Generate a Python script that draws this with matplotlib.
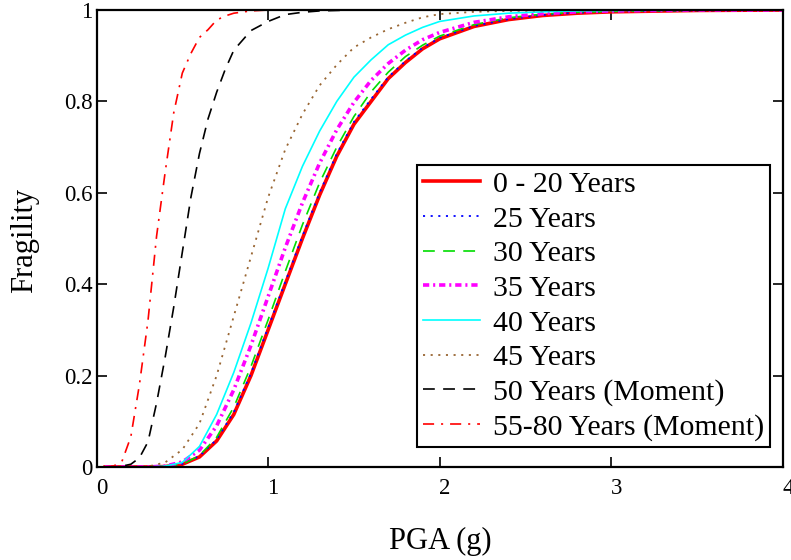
import matplotlib
matplotlib.use("Agg")
import matplotlib.pyplot as plt
from matplotlib.transforms import ScaledTranslation

plt.rcParams['font.family'] = ['Liberation Serif', 'DejaVu Serif']
plt.rcParams['lines.scale_dashes'] = False

# ---- data ----
pga = [0.05, 0.1, 0.2, 0.3, 0.4, 0.5, 0.6, 0.7, 0.8, 0.9, 1.0, 1.1, 1.2, 1.3,
       1.4, 1.5, 1.6, 1.7, 1.8, 1.9, 2.0, 2.2, 2.4, 2.6, 2.8, 3.0, 3.5, 4.0]
frag_0_20 = [0, 0, 0, 0, 0.001, 0.006, 0.022, 0.057, 0.115, 0.20, 0.30, 0.40, 0.50, 0.595,
             0.68, 0.75, 0.80, 0.85, 0.885, 0.915, 0.937, 0.964, 0.979, 0.988, 0.993, 0.996, 0.999, 1.0]
frag_25 = [0, 0, 0, 0, 0.001, 0.007, 0.024, 0.06, 0.12, 0.205, 0.305, 0.405, 0.505, 0.60,
           0.685, 0.755, 0.805, 0.853, 0.888, 0.917, 0.939, 0.965, 0.98, 0.989, 0.994, 0.997, 0.999, 1.0]
frag_30 = [0, 0, 0, 0, 0.001, 0.006, 0.025, 0.065, 0.131, 0.22, 0.322, 0.428, 0.53, 0.622,
           0.70, 0.767, 0.821, 0.864, 0.898, 0.923, 0.943, 0.968, 0.983, 0.991, 0.995, 0.997, 0.9995, 1.0]
frag_35 = [0, 0, 0, 0, 0.002, 0.011, 0.037, 0.09, 0.169, 0.266, 0.373, 0.48, 0.578, 0.665,
           0.738, 0.798, 0.846, 0.883, 0.912, 0.935, 0.951, 0.973, 0.985, 0.992, 0.996, 0.998, 1.0, 1.0]
frag_40 = [0, 0, 0, 0, 0.002, 0.01, 0.045, 0.115, 0.207, 0.315, 0.435, 0.565, 0.658, 0.735,
           0.80, 0.853, 0.891, 0.924, 0.945, 0.962, 0.975, 0.987, 0.993, 0.996, 0.998, 0.999, 1.0, 1.0]
frag_45 = [0, 0, 0, 0.001, 0.01, 0.038, 0.095, 0.20, 0.33, 0.46, 0.59, 0.695, 0.772, 0.835,
           0.88, 0.918, 0.94, 0.958, 0.972, 0.984, 0.991, 0.996, 0.998, 0.999, 1.0, 1.0, 1.0, 1.0]

pga_moment = [0.05, 0.1, 0.15, 0.2, 0.25, 0.3, 0.35, 0.4, 0.45, 0.5, 0.55, 0.6, 0.65,
              0.7, 0.75, 0.8, 0.9, 1.0, 1.1, 1.2, 1.3, 1.5, 2.0, 3.0, 4.0]
frag_50 = [0, 0, 0.002, 0.006, 0.02, 0.055, 0.14, 0.24, 0.35, 0.47, 0.59, 0.686, 0.762,
           0.82, 0.87, 0.912, 0.955, 0.975, 0.99, 0.995, 0.998, 1.0, 1.0, 1.0, 1.0]
frag_55_80 = [0, 0.002, 0.014, 0.066, 0.18, 0.32, 0.505, 0.645, 0.775, 0.862, 0.905, 0.94, 0.957,
              0.978, 0.987, 0.993, 0.998, 1.0, 1.0, 1.0, 1.0, 1.0, 1.0, 1.0, 1.0]

labels = ["0 - 20 Years", "25 Years", "30 Years", "35 Years", "40 Years",
          "45 Years", "50 Years (Moment)", "55-80 Years (Moment)"]
x_ticks = [0, 1, 2, 3, 4]
y_ticks = [0, 0.2, 0.4, 0.6, 0.8, 1.0]
y_ticklabels = ["0", "0.2", "0.4", "0.6", "0.8", "1"]

# ---- figure ----
fig = plt.figure(figsize=(7.91, 5.60), dpi=100)
ax = fig.add_axes([96.5 / 791, 1 - 467 / 560, (783 - 96.5) / 791, (467 - 10) / 560])

ax.plot(pga, frag_0_20, color='#ff0000', lw=2.6, ls='-', label=labels[0])
ax.plot(pga, frag_25, color='#0000ff', lw=1.3, ls=(0, (1.5, 4.0)), label=labels[1])
ax.plot(pga, frag_30, color='#00dd00', lw=1.2, ls=(0, (8.5, 6.0)), label=labels[2])
ax.plot(pga, frag_35, color='#ff00ff', lw=2.6, ls=(0, (4.5, 2.8, 1.5, 2.8)), label=labels[3])
ax.plot(pga, frag_40, color='#00ffff', lw=1.2, ls='-', label=labels[4])
ax.plot(pga, frag_45, color='#996633', lw=1.3, ls=(0, (1.5, 4.0)), label=labels[5])
ax.plot(pga_moment, frag_50, color='#000000', lw=1.2, ls=(0, (8.5, 6.0)), label=labels[6])
ax.plot(pga_moment, frag_55_80, color='#ff0000', lw=1.2, ls=(0, (8.0, 5.0, 1.5, 5.0)), label=labels[7])

ax.set_xlim(0, 4)
ax.set_ylim(0, 1)
ax.set_xticks(x_ticks)
ax.set_yticks(y_ticks)
ax.set_yticklabels(y_ticklabels)
ax.tick_params(direction='in', length=7, width=1.2, top=True, right=True,
               labelsize=16.5, colors='black')
ax.tick_params(axis='x', pad=8)
ax.tick_params(axis='y', pad=3)
for sp in ax.spines.values():
    sp.set_linewidth(1.6)

off = ScaledTranslation(0.05, 0, fig.dpi_scale_trans)
for lab in ax.get_xticklabels():
    lab.set_transform(lab.get_transform() + off)

fig.text(440 / 791, 1 - 541 / 560, "PGA (g)", ha='center', va='center', fontsize=22)
fig.text(25 / 791, 1 - 240 / 560, "Fragility", ha='center', va='center', fontsize=22, rotation=90)

leg = ax.legend(loc='upper left', bbox_to_anchor=((417 - 96.5) / 686.5, (467 - 165) / 457),
                borderaxespad=0, prop={'family': 'Liberation Serif', 'size': 21.5},
                handlelength=1.9, handletextpad=0.45, labelspacing=0.26, borderpad=0.2,
                frameon=True, fancybox=False, shadow=False)
leg.get_frame().set_edgecolor('black')
leg.get_frame().set_linewidth(1.5)
leg.get_frame().set_alpha(1)

fig.savefig("out.png", dpi=100)
